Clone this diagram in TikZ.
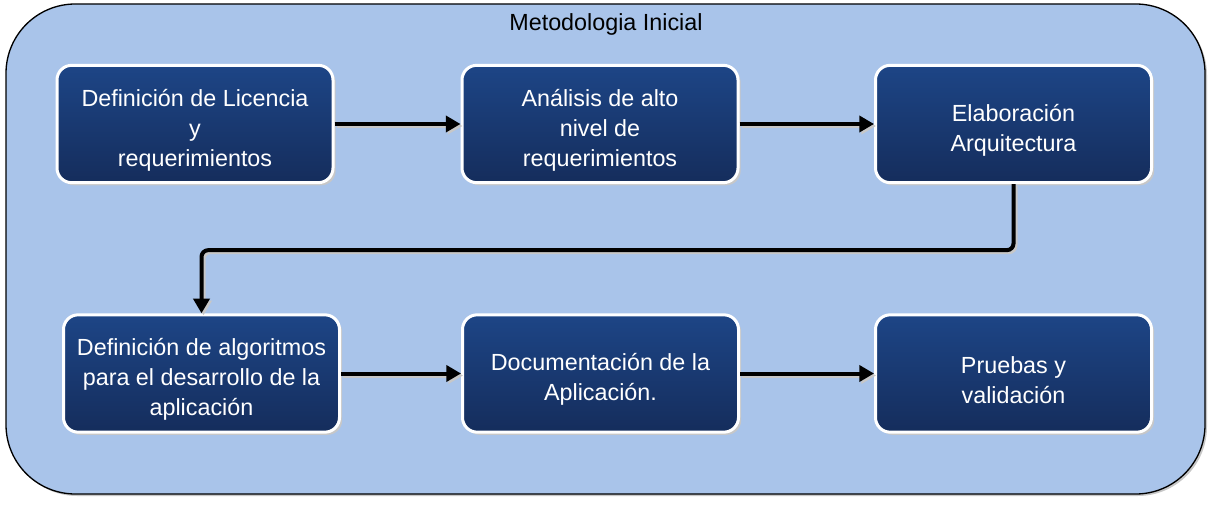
\documentclass[tikz,border=0pt]{standalone}
\usepackage{fontspec}
\setmainfont{Liberation Sans}
\usetikzlibrary{arrows.meta,shadows}
\definecolor{panelblue}{RGB}{169,196,234}
\definecolor{boxtop}{RGB}{29,69,134}
\definecolor{boxbot}{RGB}{21,45,92}
\newcommand{\stagetop}{\rule{0pt}{22pt}}
\tikzset {>={Triangle[length=11pt,width=12pt]}}
\tikzset{
  stage/.style={rounded corners=11pt, draw=white, line width=2.25pt,
    top color=boxtop, bottom color=boxbot, text=white, align=center,
    minimum width=207pt, minimum height=88pt, inner sep=2pt,
    font=\fontsize{17.5}{22.5}\selectfont,
    drop shadow={shadow xshift=2pt, shadow yshift=-2pt, fill=black!22, opacity=1}},
  flow/.style={->, line width=3pt,
    preaction={draw=black!22, line width=3pt,
      transform canvas={shift={(1.5pt,-1.5pt)}}}}
}

\begin{document}
\begin{tikzpicture}[x=0.75pt,y=0.75pt]
\useasboundingbox (0,0) rectangle (1210,504);

% outer panel
\draw[rounded corners=52pt, fill=panelblue, line width=1pt,
  drop shadow={shadow xshift=1.5pt, shadow yshift=-1.5pt, fill=black!22, opacity=1}]
  (6,10) rectangle (1205,500);
\node[font=\fontsize{17.5}{21}\selectfont] (title) at (606,480) {Metodologia Inicial};

% first row
\node[stage] (lic)   at (195,380)    {\stagetop Definición de Licencia\\y\\requerimientos};
\node[stage] (anal)  at (600,380)    {\stagetop Análisis de alto\\nivel de\\requerimientos};
\node[stage] (elab)  at (1013.5,380) {\stagetop Elaboración\\Arquitectura};

% second row
\node[stage] (algo)  at (201.5,130.5)  {\stagetop Definición de algoritmos\\para el desarrollo de la\\aplicación};
\node[stage] (doc)   at (600.5,130.5)  {\stagetop Documentación de la\\Aplicación.};
\node[stage] (prueb) at (1013.5,130.5) {\stagetop Pruebas y\\validación};

\draw[flow] (lic) -- (anal);
\draw[flow] (anal) -- (elab);
\draw[flow, rounded corners=5pt] (elab.south) -- ++(0,-66) -| (algo.north);
\draw[flow] (algo) -- (doc);
\draw[flow] (doc) -- (prueb);
\end{tikzpicture}
\end{document}
